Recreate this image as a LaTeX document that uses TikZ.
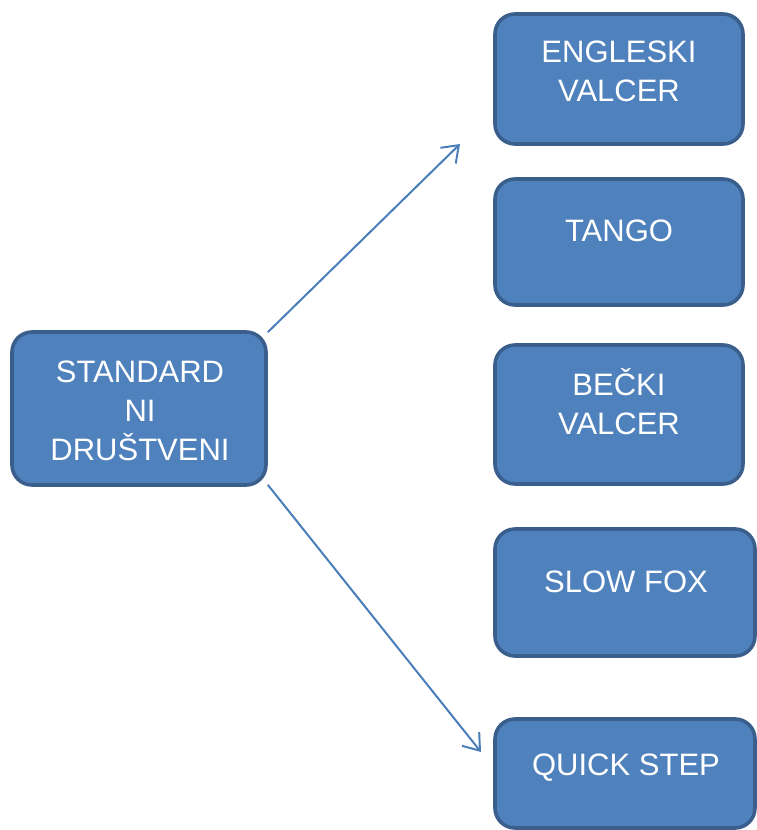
\documentclass[tikz,border=0pt]{standalone}
\usepackage{fontspec}
\setmainfont{Liberation Sans}
\usetikzlibrary{arrows.meta}
\definecolor{boxfill}{HTML}{4F81BD}
\definecolor{boxborder}{HTML}{3A5F8C}
\definecolor{arrowcol}{HTML}{4A7EBB}
\tikzset{
  box/.style={rectangle, draw=boxborder, fill=boxfill, line width=3.6pt, rounded corners=20pt, inner sep=0pt},
  lbl/.style={anchor=base, inner sep=0pt, text=white, font=\fontsize{31}{38}\selectfont},
  conn/.style={draw=arrowcol, line width=2pt, -{Straight Barb[length=15pt, width=22pt, line width=2pt]}}
}
\begin{document}
\begin{tikzpicture}[x=1pt, y=-1pt]
\useasboundingbox (0,0) rectangle (757,830);
\clip (0,0) rectangle (757,830);
% boxes
\node[box, minimum width=254pt, minimum height=153pt] (std) at (139,408.5) {};
\node[box, minimum width=248pt, minimum height=130pt] (eng) at (619,79) {};
\node[box, minimum width=248pt, minimum height=126pt] (tan) at (619,242) {};
\node[box, minimum width=248pt, minimum height=139pt] (bec) at (619,414.5) {};
\node[box, minimum width=260pt, minimum height=127pt] (slo) at (625,592.5) {};
\node[box, minimum width=260pt, minimum height=109pt] (qui) at (625,773.5) {};
% labels
\node[lbl] (std1) at (140,382) {STANDARD};
\node[lbl] (std2) at (140,421) {NI};
\node[lbl] (std3) at (140,460) {DRUŠTVENI};
\node[lbl] (eng1) at (619,62) {ENGLESKI};
\node[lbl] (eng2) at (619,101) {VALCER};
\node[lbl] (tan1) at (619,241) {TANGO};
\node[lbl] (bec1) at (619,395) {BEČKI};
\node[lbl] (bec2) at (619,434) {VALCER};
\node[lbl] (slo1) at (626,592) {SLOW FOX};
\node[lbl] (qui1) at (626,775) {QUICK STEP};
% connectors
\coordinate (a1) at (460,144);
\coordinate (a2) at (481,752);
\draw[conn] (std.north east) ++(0,2) -- (a1);
\draw[conn] (std.south east) ++(0,-2) -- (a2);
\end{tikzpicture}
\end{document}
